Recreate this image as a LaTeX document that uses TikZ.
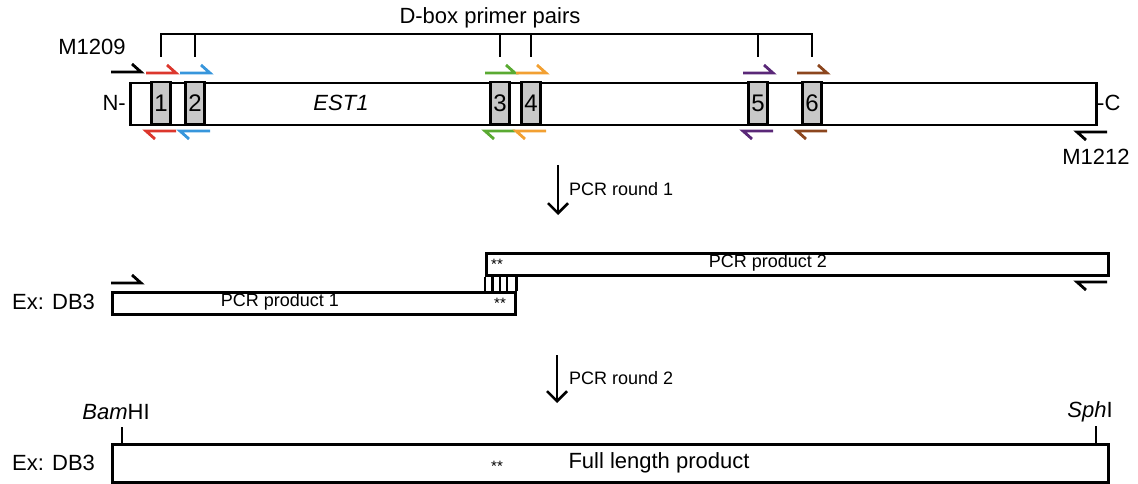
\documentclass[tikz,border=0pt]{standalone}
\usepackage{fontspec}
\setmainfont{Liberation Sans}
\usetikzlibrary{arrows.meta}

\definecolor{pred}{RGB}{220,55,45}
\definecolor{pblue}{RGB}{55,150,220}
\definecolor{pgreen}{RGB}{90,170,50}
\definecolor{porange}{RGB}{242,160,50}
\definecolor{ppurple}{RGB}{90,40,120}
\definecolor{pbrown}{RGB}{140,70,30}
\definecolor{dboxgray}{RGB}{200,200,200}

% forward primer: half arrow with the barb above the tip
\newcommand\fwdprimer[3]{\draw[primer,#1] (#2-15,#3) -- (#2+15,#3) -- ++(-9,-8);}
% reverse primer: half arrow with the barb below the tip
\newcommand\revprimer[3]{\draw[primer,#1] (#2+15,#3) -- (#2-15,#3) -- ++(9,8);}

\begin{document}
\begin{tikzpicture}[x=1pt,y=-1pt,
  big/.style={font=\fontsize{22}{26}\selectfont, inner sep=0pt},
  small/.style={font=\fontsize{18}{21}\selectfont, inner sep=0pt},
  stars/.style={font=\fontsize{15}{17}\selectfont, inner sep=0pt},
  gene/.style={draw, line width=2.5pt, fill=white, inner sep=0pt, anchor=north west},
  dbox/.style={draw, line width=2.5pt, fill=dboxgray, inner sep=0pt,
    minimum width=19pt, minimum height=42pt,
    font=\fontsize{24}{28}\selectfont},
  primer/.style={line width=2.8pt},
  bar/.style={line width=2.5pt},
  flow/.style={line width=2.5pt, -{Straight Barb[length=10pt,width=20pt,line width=2.5pt]}},
]
\useasboundingbox (0,0) rectangle (1138,484);

% ---- EST1 gene with its D-boxes ----
\node[gene, minimum width=966pt, minimum height=42pt] (est) at (129,82) {};
\node[big, font=\fontsize{22}{26}\selectfont\itshape] (estname) at (341,103) {EST1};
\node[big, anchor=east] (nterm) at (126,103) {N-};
\node[big, anchor=west] (cterm) at (1097,103) {-C};

\foreach \i/\x in {1/161,2/195,3/500,4/531,5/758,6/812}{
  \node[dbox] (d\i) at (\x,103) {\i};
  \coordinate (t\i) at (\x,57);
}

% primer-pair bracket
\node[big] (dlabel) at (490,18) {D-box primer pairs};
\coordinate (bl) at (161,34);
\coordinate (br) at (812,34);
\draw[bar] (t1) -- (bl) -- (br) -- (t6);
\foreach \i/\x in {2/195,3/500,4/531,5/758}{
  \draw[bar] (t\i) -- (\x,34);
}

% primers flanking each D-box
\foreach \x/\c in {161/pred,195/pblue,500/pgreen,531/porange,758/ppurple,812/pbrown}{
  \fwdprimer{\c}{\x}{73}
  \revprimer{\c}{\x}{131}
}

% outer primers
\node[big] (m1209) at (92,47) {M1209};
\fwdprimer{black}{126}{72}
\node[big] (m1212) at (1096,157) {M1212};
\revprimer{black}{1092}{132}

% ---- PCR round 1 ----
\coordinate (r1a) at (558,165);
\coordinate (r1b) at (558,215);
\draw[flow] (r1a) -- (r1b);
\node[small, anchor=west] (r1) at (569,189) {PCR round 1};

\node[gene, minimum width=622pt, minimum height=22pt] (p2) at (485,252) {};
\node[gene, minimum width=403pt, minimum height=22pt] (p1) at (111,291) {};
\node[small] (p2name) at (768,263) {PCR product 2};
\node[small] (p1name) at (280,302) {PCR product 1};
\node[stars] (s2) at (497,264) {**};
\node[stars] (s1) at (500,303) {**};
\draw[bar] (p2.south west) -- (p1.north east -| p2.south west);
\foreach \x in {492.5,500,507}{
  \draw[bar] (\x,274) -- (\x,291);
}
\draw[bar] (p1.north east) -- (p2.south west -| p1.north east);
\fwdprimer{black}{126}{283}
\revprimer{black}{1092}{282}
\node[big, anchor=west] (ex1) at (12,302) {Ex: DB3};

% ---- PCR round 2 ----
\coordinate (r2a) at (557,355);
\coordinate (r2b) at (557,403);
\draw[flow] (r2a) -- (r2b);
\node[small, anchor=west] (r2) at (569,378) {PCR round 2};

\node[gene, minimum width=996pt, minimum height=38pt] (full) at (111,443) {};
\node[big] (fullname) at (659,463) {Full length product};
\node[stars] (s3) at (497,466) {**};
\node[big, anchor=west] (ex2) at (12,463) {Ex: DB3};

\node[big] (bam) at (116,412) {\textit{Bam}HI};
\node[big] (sph) at (1090,412) {\textit{Sph}I};
\coordinate (bamtop) at (122,427);
\coordinate (sphtop) at (1096,426);
\draw[bar] (bamtop) -- (bamtop |- full.north);
\draw[bar] (sphtop) -- (sphtop |- full.north);
\end{tikzpicture}
\end{document}
